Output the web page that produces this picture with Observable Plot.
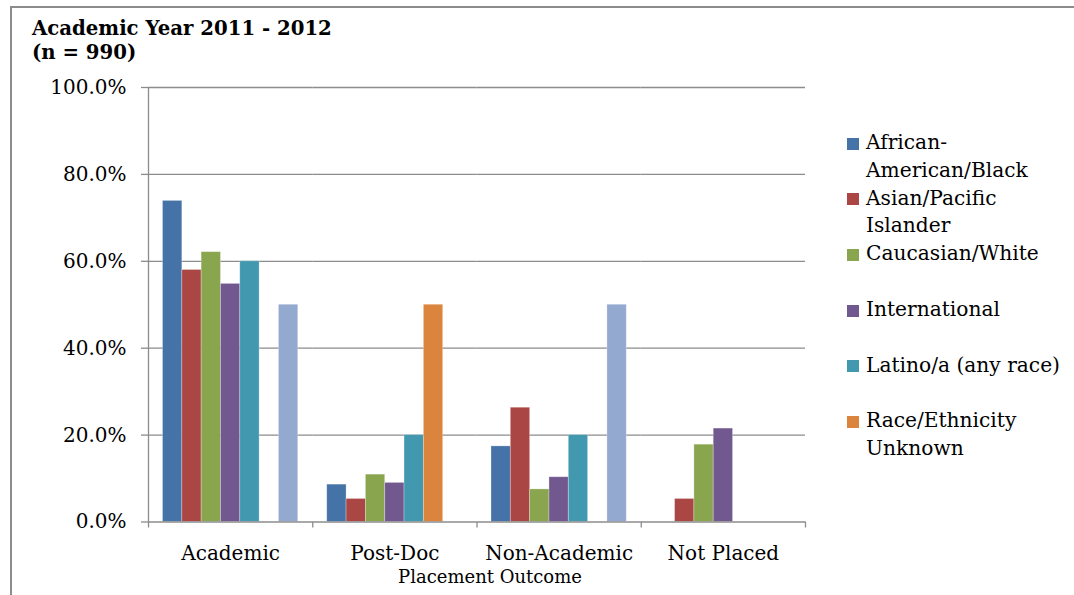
<!DOCTYPE html>
<html>
<head>
<meta charset="utf-8">
<script src="https://cdn.jsdelivr.net/npm/d3@7"></script>
<script src="https://cdn.jsdelivr.net/npm/@observablehq/plot@0.6"></script>
<style>
  body { margin: 0; background: #fff; }
  #wrap { position: relative; width: 1074px; height: 595px; overflow: hidden; font-family: "DejaVu Serif", serif; color: #000; background: #fff; }
  #border { position: absolute; left: 10px; top: 6px; width: 2000px; height: 2000px; border-top: 2px solid #8c8c8c; border-left: 2px solid #8c8c8c; }
  #title { position: relative; height: 70px; box-sizing: border-box; padding: 16.5px 0 0 32px; font-weight: bold; font-size: 19.7px; line-height: 24px; }
  #chart { position: absolute; left: 0; top: 70px; }
  #xlabel { position: absolute; left: 0; width: 980px; top: 566px; text-align: center; font-size: 18px; line-height: 21px; }
  #legend { position: absolute; left: 847px; top: 129px; font-size: 20.2px; line-height: 27.5px; }
  .item { height: 55.7px; position: relative; padding-left: 19px; white-space: pre; }
  .sw { position: absolute; left: 0; top: 8.7px; width: 12px; height: 12px; }
</style>
</head>
<body>
<div id="wrap">
  <div id="border"></div>
  <div id="title"></div>
  <div id="chart"></div>
  <div id="xlabel"></div>
  <div id="legend"></div>
</div>
<script>
// ---- data ----
const titleLines = ["Academic Year 2011 - 2012", "(n = 990)"];
const xAxisLabel = "Placement Outcome";
const outcomes = ["Academic", "Post-Doc", "Non-Academic", "Not Placed"];
const races = [
  "African-American/Black",
  "Asian/Pacific Islander",
  "Caucasian/White",
  "International",
  "Latino/a (any race)",
  "Race/Ethnicity Unknown",
  "Two or More Races"
];
// legend shows only the first six series, with the original line breaks
const legendLabels = [
  "African-\nAmerican/Black",
  "Asian/Pacific\nIslander",
  "Caucasian/White",
  "International",
  "Latino/a (any race)",
  "Race/Ethnicity\nUnknown"
];
const colors = ["#4572A7", "#AA4643", "#89A54E", "#71588F", "#4198AF", "#DB843D", "#93A9CF"];
// percent values per series, in the order of outcomes
const valBlack    = [73.9,  8.6, 17.4,  0.0];
const valAsian    = [58.0,  5.3, 26.3,  5.3];
const valWhite    = [62.1, 10.9,  7.5, 17.8];
const valIntl     = [54.8,  9.0, 10.3, 21.5];
const valLatino   = [60.0, 20.0, 20.0,  0.0];
const valUnknown  = [ 0.0, 50.0,  0.0,  0.0];
const valTwoMore  = [50.0,  0.0, 50.0,  0.0];
const yTicks = [0, 20, 40, 60, 80, 100];

const seriesValues = [valBlack, valAsian, valWhite, valIntl, valLatino, valUnknown, valTwoMore];
const table = outcomes.flatMap((o, i) => races.map((r, j) => ({outcome: o, race: r, value: seriesValues[j][i]})));

// ---- layout ----
document.getElementById("title").innerHTML = titleLines.join("<br>");
document.getElementById("xlabel").textContent = xAxisLabel;

const W = 1074, H = 525, ML = 148, MR = 269, MT = 17, MB = 73.5;
const grid = "#8c8c8c";
const facetW = (W - ML - MR) / outcomes.length;
const xPadOuter = 0.75;
const xStep = facetW / (races.length + 2 * xPadOuter);
const edge = (xPadOuter + 0.5) * xStep;
const frameH = H - MT - MB;

const chart = Plot.plot({
  width: W, height: H,
  marginLeft: ML, marginRight: MR, marginTop: MT, marginBottom: MB,
  style: {fontFamily: "DejaVu Serif", fontSize: "20px", color: "#000", background: "transparent"},
  fx: {domain: outcomes, padding: 0, round: false, label: null},
  x: {domain: races, paddingInner: 0, paddingOuter: xPadOuter, round: false, axis: null},
  y: {domain: [0, 100], label: null},
  color: {domain: races, range: colors},
  marks: [
    Plot.ruleY(yTicks.filter(t => t > 0), {stroke: grid, strokeWidth: 1.3}),
    Plot.barY(table.filter(d => d.value > 0), {fx: "outcome", x: "race", y: "value", fill: "race", stroke: "#fff", strokeOpacity: 0.35, strokeWidth: 0.8}),
    Plot.ruleY([0], {stroke: grid, strokeWidth: 1.3}),
    Plot.axisY({ticks: yTicks, tickFormat: d => d.toFixed(1) + "%", tickSize: 7, tickPadding: 15, stroke: grid, strokeWidth: 1.3, label: null}),
    Plot.axisFx({anchor: "bottom", tickSize: 0, tickPadding: 24, label: null}),
    Plot.ruleX([outcomes[0]], {fx: d => d, x: () => races[0], dx: -edge, stroke: grid, strokeWidth: 1.3, insetBottom: -6}),
    Plot.ruleX(outcomes.slice(1), {fx: d => d, x: () => races[0], dx: -edge, stroke: grid, strokeWidth: 1.3, insetTop: frameH, insetBottom: -6}),
    Plot.ruleX([outcomes[outcomes.length - 1]], {fx: d => d, x: () => races[races.length - 1], dx: edge, stroke: grid, strokeWidth: 1.3, insetTop: frameH, insetBottom: -6})
  ]
});
document.getElementById("chart").appendChild(chart);

// ---- legend ----
const legend = document.getElementById("legend");
legendLabels.forEach((lab, i) => {
  const it = document.createElement("div");
  it.className = "item";
  const sw = document.createElement("span");
  sw.className = "sw";
  sw.style.background = colors[i];
  it.appendChild(sw);
  it.appendChild(document.createTextNode(lab));
  legend.appendChild(it);
});
</script>
</body>
</html>
